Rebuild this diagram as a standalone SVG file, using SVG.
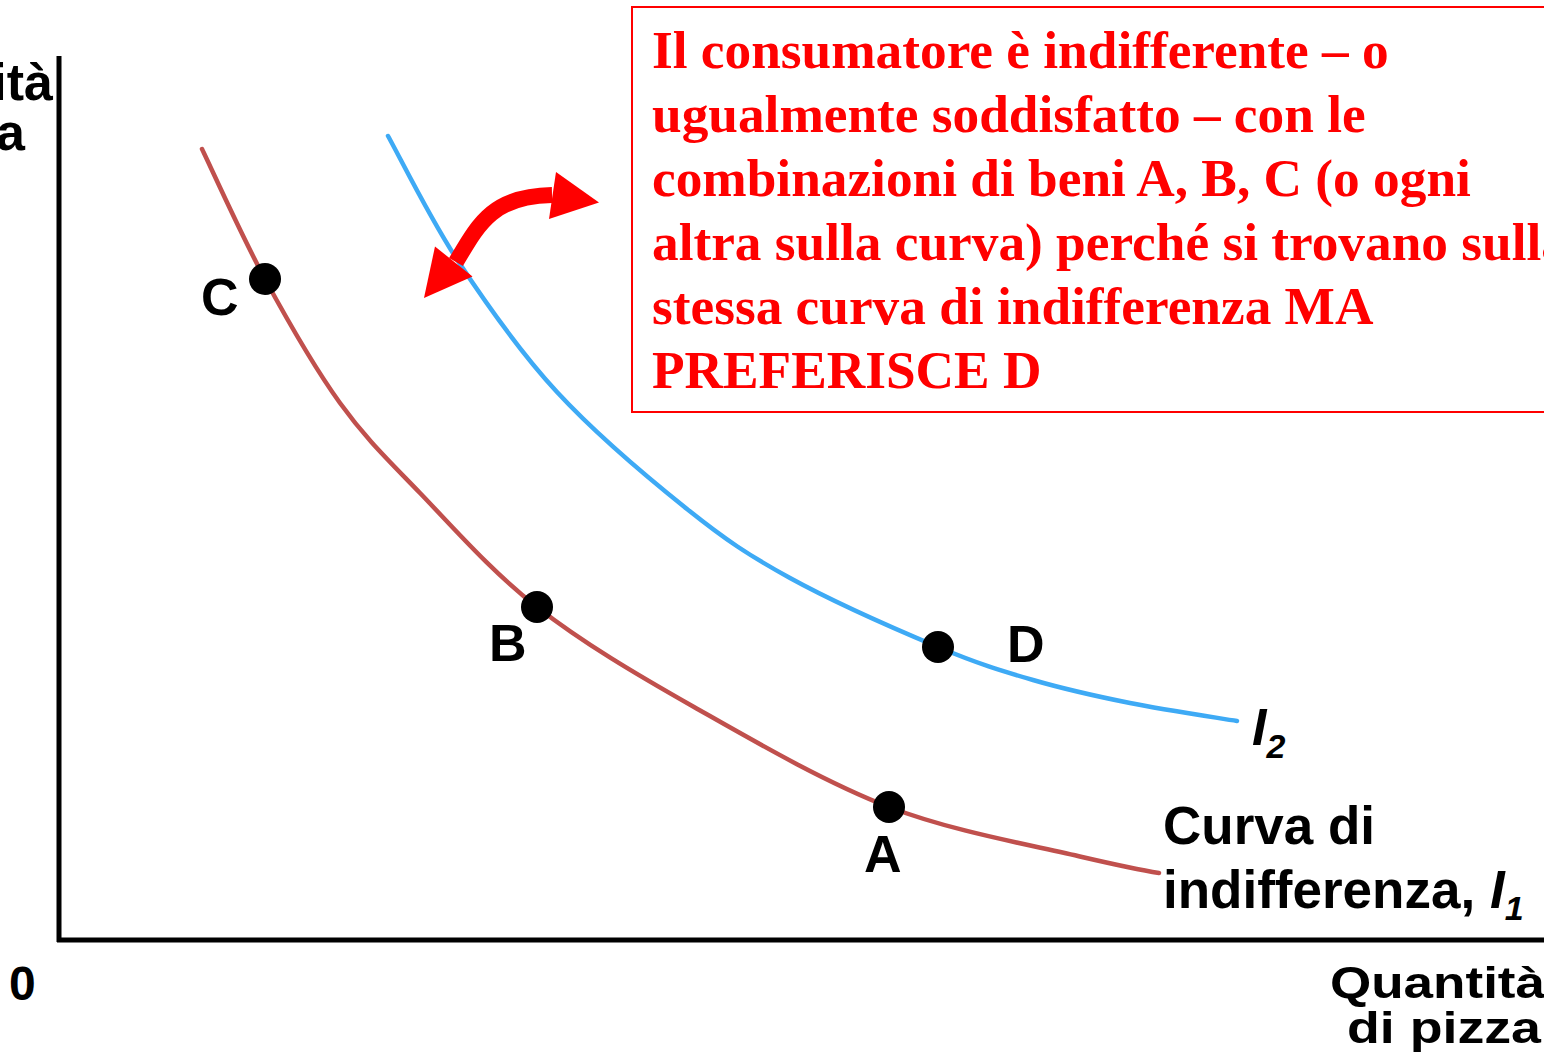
<svg xmlns="http://www.w3.org/2000/svg" width="1544" height="1062" viewBox="0 0 1544 1062">
  <style>
    .lbl { font-family: "Liberation Sans", Arial, sans-serif; font-weight: bold; font-size: 52px; fill: #000; }
    .big { font-size: 53px; }
    .ax { font-size: 44px; }
    .it { font-style: italic; }
    .sub { font-size: 34px; font-style: italic; }
    .note { font-family: "Liberation Serif", "Times New Roman", serif; font-weight: bold; font-size: 53.3px; fill: #ff0000; }
    .axis { stroke: #000; stroke-width: 5; fill: none; }
    .curve { fill: none; stroke-width: 4.5; stroke-linecap: round; }
    .dot { fill: #000; }
  </style>
  <rect width="1544" height="1062" fill="#fff"/>

  <g id="axes">
    <line class="axis" x1="59" y1="56" x2="59" y2="942"/>
    <line class="axis" x1="57" y1="940" x2="1544" y2="940"/>
    <text class="lbl" x="53" y="100" text-anchor="end">ità</text>
    <text class="lbl" x="25" y="150" text-anchor="end">a</text>
    <text class="lbl" x="9" y="1000" style="font-size:48px">0</text>
    <text class="lbl ax" x="1330" y="998" textLength="215" lengthAdjust="spacingAndGlyphs">Quantità</text>
    <text class="lbl ax" x="1347" y="1043" textLength="194" lengthAdjust="spacingAndGlyphs">di pizza</text>
  </g>

  <g id="curve-I1">
    <path class="curve" stroke="#c0504d" d="M202 149 C212.5 170.7 242 236.7 265 279 C288 321.3 314.2 367.3 340 403 C365.8 438.7 387.2 459 420 493 C452.8 527 491.3 571.3 537 607 C582.7 642.7 635.3 673.7 694 707 C752.7 740.3 824.3 782 889 807 C953.7 832 1037 846 1082 857 C1108 863 1140 870 1159 873"/>
    <text class="lbl big" x="1163" y="844">Curva di</text>
    <text class="lbl big" x="1163" y="908">indifferenza, <tspan class="it">I</tspan><tspan class="sub" dy="12">1</tspan></text>
  </g>

  <g id="curve-I2">
    <path class="curve" stroke="#3eaaf5" d="M388 136 C399.7 156.8 429.8 218.3 458 261 C486.2 303.7 518.8 350.7 557 392 C595.2 433.3 648.2 478 687 509 C725.8 540 748.2 555 790 578 C831.8 601 897.5 630 938 647 C978.5 664 1001 670.7 1033 680 C1065 689.3 1096 696.2 1130 703 C1164 709.8 1219.2 718 1237 721"/>
    <text class="lbl" x="1252" y="745"><tspan class="it">I</tspan><tspan class="sub" dy="13">2</tspan></text>
  </g>

  <g id="point-C">
    <circle class="dot" cx="265" cy="279" r="16"/>
    <text class="lbl" x="201" y="315">C</text>
  </g>
  <g id="point-B">
    <circle class="dot" cx="537" cy="607" r="16"/>
    <text class="lbl" x="489" y="661">B</text>
  </g>
  <g id="point-A">
    <circle class="dot" cx="889" cy="807" r="16"/>
    <text class="lbl" x="864" y="872">A</text>
  </g>
  <g id="point-D">
    <circle class="dot" cx="938" cy="647" r="16"/>
    <text class="lbl" x="1007" y="662">D</text>
  </g>

  <g id="connectors">
    <path d="M456 262 C478 225 492 196 552 195" fill="none" stroke="#ff0000" stroke-width="16"/>
    <polygon points="556,172 599,202.5 549,219" fill="#ff0000"/>
    <polygon points="435,246.5 424,298 472.5,276.5" fill="#ff0000"/>
  </g>

  <g id="note">
    <rect x="632" y="7" width="1000" height="405" fill="#fff" stroke="#ff0000" stroke-width="2"/>
    <text class="note" x="652" y="68">Il consumatore è indifferente – o</text>
    <text class="note" x="652" y="132">ugualmente soddisfatto – con le</text>
    <text class="note" x="652" y="196">combinazioni di beni A, B, C (o ogni</text>
    <text class="note" x="652" y="260">altra sulla curva) perché si trovano sulla</text>
    <text class="note" x="652" y="324">stessa curva di indifferenza MA</text>
    <text class="note" x="652" y="388">PREFERISCE D</text>
  </g>
</svg>
